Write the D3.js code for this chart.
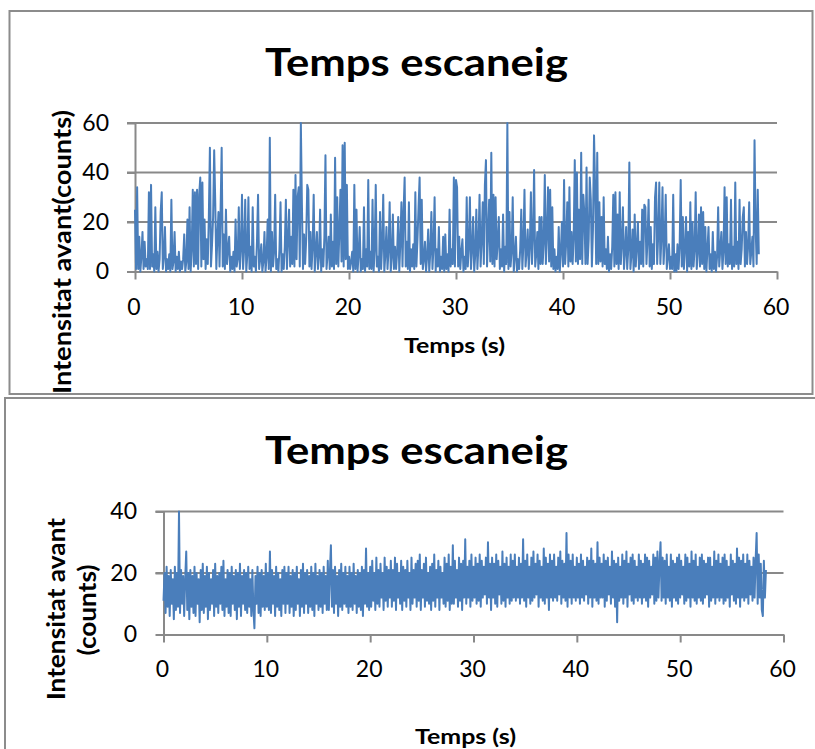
<!DOCTYPE html>
<html><head><meta charset="utf-8">
<script src="https://cdn.jsdelivr.net/npm/d3@7"></script>
<style>html,body{margin:0;padding:0;background:#fff;} svg{display:block;}</style>
</head><body>
<script>
// ---- data ----
const sampleStep = 0.1; // seconds between samples
const xTicks = [0, 10, 20, 30, 40, 50, 60];
const yTicksTop = [0, 20, 40, 60];
const yTicksBottom = [0, 20, 40];
const chartTitle = "Temps escaneig";
const xLabel = "Temps (s)";
const yLabelTop = "Intensitat avant(counts)";
const yLabelBottom = ["Intensitat avant", "(counts)"];

const intensityTop = [
25,1,34,1,14,0,6,16,1,12,2,5,1,32,1,35,2,7,0,26,
1,8,0,5,24,32,1,6,18,0,5,1,7,0,29,1,4,16,0,6,
1,8,0,4,1,5,15,0,4,21,1,26,0,9,33,2,32,3,33,1,
31,38,2,36,5,21,1,13,3,22,50,2,11,22,49,28,1,14,24,2,
25,50,2,15,1,25,3,9,14,0,6,1,8,0,21,2,5,26,1,9,
31,1,9,29,0,7,30,1,10,0,26,2,6,0,12,31,1,5,11,0,
4,16,0,6,21,1,54,0,16,2,8,31,1,5,0,9,28,0,7,1,
10,29,1,13,25,2,14,3,33,2,39,5,30,34,2,60,27,1,15,3,
13,35,33,2,16,1,10,31,0,8,16,1,6,25,0,9,2,14,47,1,
7,14,1,23,2,12,1,46,3,30,2,16,33,4,51,2,52,5,35,1,
6,1,4,8,0,35,1,25,0,7,18,0,5,1,26,0,9,2,37,1,
8,1,29,0,9,35,2,6,0,24,1,11,31,0,7,18,1,9,28,0,
6,23,1,10,1,8,22,0,12,28,2,24,38,2,12,1,28,0,9,2,
11,1,32,2,13,26,38,3,29,1,5,12,0,6,17,0,8,24,1,10,
30,0,9,2,18,0,6,1,14,0,15,1,7,0,25,2,9,3,38,2,
37,34,2,14,1,8,13,0,6,1,30,2,10,30,1,9,22,0,7,25,
1,11,31,2,13,28,3,35,45,2,15,29,4,48,3,31,2,30,5,12,
22,1,9,2,23,0,10,3,60,1,24,2,8,30,0,6,14,0,5,1,
9,25,1,11,33,2,8,17,1,10,32,3,14,41,2,7,16,1,22,3,
22,3,12,39,3,15,34,4,33,2,26,1,9,0,6,1,18,0,8,20,
2,37,3,12,28,2,34,4,16,3,14,45,4,40,3,25,5,48,3,31,
23,3,42,3,13,38,29,2,17,55,34,3,48,3,28,4,22,2,30,3,
9,1,14,0,7,1,10,31,2,32,3,23,1,32,3,11,26,1,8,18,
1,9,44,1,7,17,0,23,2,10,20,1,12,3,25,2,27,26,3,13,
29,2,18,1,11,3,30,36,3,15,36,3,14,34,3,12,31,1,6,11,
1,6,1,31,0,7,0,11,1,10,37,2,22,1,9,22,0,16,2,28,
1,20,2,9,32,1,8,23,2,26,3,24,1,18,0,9,18,1,7,0,
16,1,8,0,6,26,2,9,16,1,8,34,3,30,2,11,3,29,1,10,
2,36,3,12,1,29,3,9,22,26,2,16,3,10,28,3,8,14,2,53,
18,3,33,7
];

const intensityBottom = [
11,20,7,22,9,19,6,21,10,18,5,22,8,20,9,40,7,21,10,19,
6,18,27,8,20,5,21,9,19,7,22,6,20,10,18,4,21,8,23,7,
19,9,22,5,20,8,18,10,21,6,23,9,19,7,20,10,22,8,24,6,
18,9,21,7,20,6,22,10,19,8,21,5,20,9,23,6,19,10,21,8,
20,7,22,9,18,6,21,8,2,19,10,22,7,20,6,21,9,19,8,23,
9,20,8,27,7,21,10,19,6,22,9,20,8,18,6,21,10,22,7,20,
10,22,7,19,9,21,6,20,8,22,10,18,6,21,9,23,7,20,10,21,
7,19,9,22,8,20,6,23,10,19,8,21,9,20,7,22,10,19,8,24,
8,20,29,9,21,7,22,10,19,6,21,9,23,8,20,10,22,9,19,7,
22,9,20,8,23,10,19,7,21,9,20,8,22,6,21,10,28,9,20,8,
22,9,24,11,20,8,25,10,21,9,23,12,20,8,25,11,22,9,21,12,
24,9,21,11,25,8,23,12,20,10,24,8,22,11,21,9,24,12,20,8,
25,10,21,12,23,9,24,11,26,8,21,12,23,9,25,11,20,10,22,8,
23,11,26,9,21,12,24,8,22,12,20,10,25,9,23,11,26,8,22,10,
29,10,24,12,21,9,25,11,23,8,24,12,31,10,22,12,24,9,26,11,
22,12,25,10,23,11,26,9,24,12,22,13,25,10,30,12,23,8,25,12,
23,10,26,9,24,13,22,10,27,11,23,9,25,12,22,10,26,11,24,12,
26,11,22,12,25,10,23,12,31,11,24,9,26,12,22,10,25,11,27,12,
23,13,26,9,24,12,22,11,28,10,25,12,23,8,26,12,24,11,26,12,
22,11,25,13,27,10,24,12,23,11,33,9,26,12,24,10,26,12,22,11,
25,12,23,10,26,12,24,11,22,13,25,10,24,12,28,9,24,12,23,11,
30,10,25,12,23,12,26,9,24,11,25,13,22,10,27,12,24,9,23,4,
25,11,22,12,26,10,24,12,27,9,23,13,25,11,26,10,24,12,22,11,
26,12,24,10,23,12,26,11,25,9,24,12,22,13,26,10,25,11,27,12,
23,30,11,25,12,24,10,26,12,22,11,26,9,24,12,23,11,25,10,26,
12,24,13,22,10,26,11,25,12,23,9,27,12,24,11,26,10,22,12,25,
11,26,10,24,12,23,13,25,9,25,11,22,12,27,10,24,12,26,11,23,
12,25,10,26,11,24,12,22,9,26,13,24,11,23,10,28,12,25,9,24,
12,26,11,23,12,26,10,24,13,22,11,25,12,24,33,10,26,12,23,8,
6,24,12,21
];

// ---- drawing ----
const W = 815, H = 749;
const FONT = "Lato, 'Open Sans', sans-serif";
const GRID = "#898989";
const LINE = "#4a7ebb";

const svg = d3.select("body").append("svg").attr("width", W).attr("height", H);

// panel borders
svg.append("rect").attr("x", 9.5).attr("y", 11).attr("width", 803).attr("height", 383)
  .attr("fill", "none").attr("stroke", "#8c8c8c").attr("stroke-width", 2);
svg.append("rect").attr("x", 5).attr("y", 398).attr("width", 840).attr("height", 420)
  .attr("fill", "none").attr("stroke", "#8c8c8c").attr("stroke-width", 2);

function stretchText(sel, w) {
  sel.attr("textLength", w).attr("lengthAdjust", "spacingAndGlyphs");
}

function drawPanel(cfg) {
  const x = d3.scaleLinear().domain([0, 60]).range([cfg.x0, cfg.x1]);
  const y = d3.scaleLinear().domain([0, cfg.yMax]).range([cfg.y0, cfg.y1]);
  const g = svg.append("g");

  // gridlines
  g.append("g").selectAll("line").data(cfg.yTicks.filter(d => d > 0)).join("line")
    .attr("x1", cfg.x0 - 8).attr("x2", cfg.x1)
    .attr("y1", d => y(d)).attr("y2", d => y(d))
    .attr("stroke", GRID).attr("stroke-width", 2);

  // y axis
  const ya = g.append("g").attr("transform", `translate(${cfg.x0},0)`)
    .call(d3.axisLeft(y).tickValues(cfg.yTicks).tickSize(8).tickSizeOuter(0).tickPadding(cfg.yPad));
  ya.select(".domain").attr("stroke", GRID).attr("stroke-width", 2);
  ya.selectAll(".tick line").attr("stroke", GRID).attr("stroke-width", 2);
  ya.selectAll("text").attr("font-family", FONT).attr("font-size", 23).attr("fill", "#000")
    .attr("dy", "0.32em");

  // x axis
  const xa = g.append("g").attr("transform", `translate(0,${cfg.y0})`)
    .call(d3.axisBottom(x).tickValues(xTicks).tickSize(8).tickSizeOuter(0));
  xa.select(".domain").attr("stroke", GRID).attr("stroke-width", 2);
  xa.selectAll(".tick line").attr("stroke", GRID).attr("stroke-width", 2);
  xa.selectAll("text").attr("font-family", FONT).attr("font-size", 23).attr("fill", "#000")
    .attr("y", cfg.xLabBase).attr("dy", 0).attr("dx", -1.5);

  // series
  const line = d3.line().x((d, i) => x(i * sampleStep)).y(d => y(d));
  g.append("path").datum(cfg.data).attr("d", line)
    .attr("fill", "none").attr("stroke", LINE).attr("stroke-width", 2)
    .attr("stroke-linejoin", "round");

  // title
  g.append("text").attr("x", cfg.titleX).attr("y", cfg.titleY).attr("text-anchor", "middle")
    .attr("font-family", FONT).attr("font-weight", 700).attr("font-size", 39).attr("fill", "#000")
    .text(chartTitle).call(stretchText, 303);

  // x title
  g.append("text").attr("x", cfg.xtX).attr("y", cfg.xtY).attr("text-anchor", "middle")
    .attr("font-family", FONT).attr("font-weight", 700).attr("font-size", 21).attr("fill", "#000")
    .text(xLabel).call(stretchText, 101);

  // y title
  cfg.yTitle.forEach(t => {
    g.append("text")
      .attr("transform", `translate(${t.bx},${t.cy}) rotate(-90)`)
      .attr("text-anchor", "middle")
      .attr("font-family", FONT).attr("font-weight", 700).attr("font-size", t.fs).attr("fill", "#000")
      .text(t.text).call(stretchText, t.len);
  });
}

drawPanel({
  data: intensityTop, yMax: 60, yTicks: yTicksTop,
  x0: 135, x1: 777, y0: 271.5, y1: 123, yPad: 18, xLabBase: 43.5,
  titleX: 416.5, titleY: 76, xtX: 454.5, xtY: 353,
  yTitle: [{ text: yLabelTop, bx: 71, cy: 252, fs: 25, len: 284 }]
});

drawPanel({
  data: intensityBottom, yMax: 40, yTicks: yTicksBottom,
  x0: 163.5, x1: 783.5, y0: 634.5, y1: 511.5, yPad: 18.5, xLabBase: 42.5,
  titleX: 416.5, titleY: 464, xtX: 465.5, xtY: 744,
  yTitle: [
    { text: yLabelBottom[0], bx: 65, cy: 609, fs: 25, len: 182 },
    { text: yLabelBottom[1], bx: 95.5, cy: 610, fs: 25, len: 91 }
  ]
});
</script>
</body></html>
